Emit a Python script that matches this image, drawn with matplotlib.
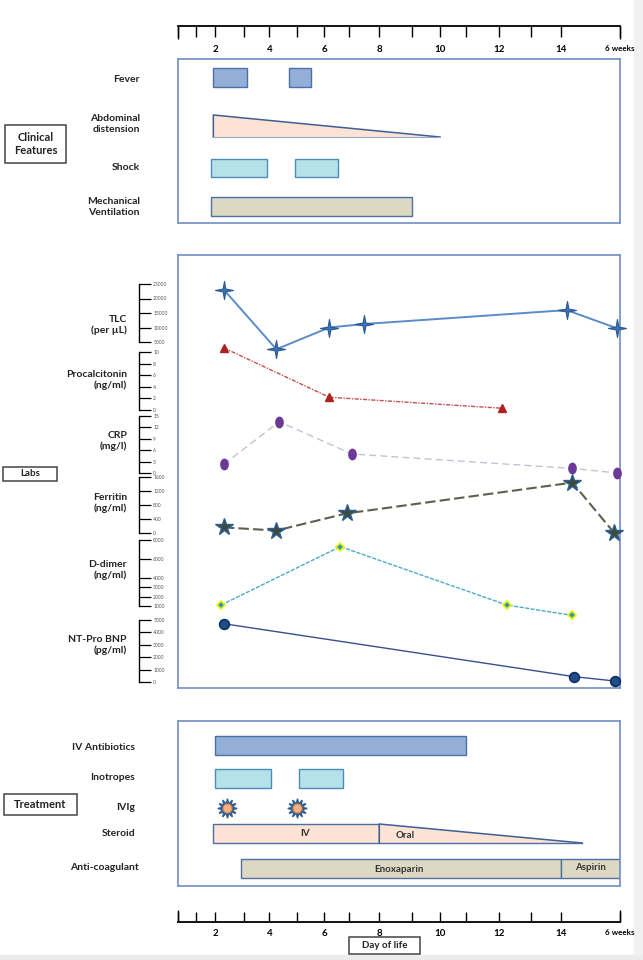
import numpy as np
import matplotlib.pyplot as plt
from matplotlib.path import Path
from matplotlib.patches import Rectangle

plt.rcParams['font.family'] = ['Lato', 'DejaVu Sans']

W, H = 643, 960

# the drawn day ruler is not evenly spaced, so map day -> pixel along it
ruler_days = [0, 1, 2, 3, 4, 5, 6, 7, 8, 9, 10, 11, 12, 13, 14, 42]
ruler_px = [177.5, 195.6, 215.3, 244, 269.4, 297.3, 324.3, 349, 379.3, 412,
            440, 466, 499, 531, 560.5, 620]
ruler_labels = ['', '', '2', '', '4', '', '6', '', '8', '', '10', '', '12', '',
                '14', '6 weeks']

# clinical features, (start day, end day)
fever = [(1.9, 3.1), (4.7, 5.5)]
abd_distension = (1.9, 10)
shock = [(1.8, 3.9), (4.9, 6.55)]
ventilation = [(1.8, 9.0)]

# labs
tlc_day = [2.3, 4.25, 6.2, 7.5, 16.9, 40.7]
tlc = [23000, 2500, 10000, 11200, 16000, 9700]
pct_day = [2.3, 6.2, 12.1]
pct = [10.7, 2.2, 0.3]
crp_day = [2.3, 4.35, 7.1, 19.6, 40.7]
crp = [2.3, 13.5, 5.0, 1.2, 0]
ferritin_day = [2.3, 4.25, 6.9, 19.6, 39.3]
ferritin = [160, 70, 560, 1440, 0]
ddimer_day = [2.2, 6.65, 12.25, 19.6]
ddimer = [1100, 7300, 1100, 0]
bnp_day = [2.3, 20.4, 39.6]
bnp = [4700, 430, 80]

tlc_ticks = [5000, 10000, 15000, 20000, 25000]
pct_ticks = [0, 2, 4, 6, 8, 10]
crp_ticks = [0, 3, 6, 9, 12, 15]
ferritin_ticks = [0, 400, 800, 1200, 1600]
ddimer_ticks = [1000, 2000, 3000, 4000, 6000, 8000]
bnp_ticks = [0, 1000, 2000, 3000, 4000, 5000]

# treatment
antibiotics = [(2.0, 11.0)]
inotropes = [(2.0, 4.05), (5.05, 6.75)]
ivig_day = [2.4, 5.0]
steroid_iv = (1.9, 8.0)
steroid_oral = (8.0, 24.2)
enoxaparin = (2.9, 14)
aspirin = (14, 42)

FRAME = '#6F8FC2'
BLUE_FILL, BLUE_EDGE = '#93AFD8', '#4D6FA3'
CYAN_FILL, CYAN_EDGE = '#B7E1E8', '#4A8DB5'
TAN_FILL = '#DDD8C2'
PEACH_FILL = '#FCE3D3'
LABEL = dict(fontsize=7.5, fontweight='bold', color='#222222')


def to_px(d):
    return np.interp(d, ruler_days, ruler_px)


def to_day(p):
    return np.interp(p, ruler_px, ruler_days)


fig = plt.figure(figsize=(W / 100, H / 100), dpi=100)
fig.patches.append(Rectangle((634 / W, 0), 9 / W, 1, color='#F1F1F1',
                             transform=fig.transFigure, zorder=-5))
fig.patches.append(Rectangle((0, 0), 1, 5 / H, color='#ECECEC',
                             transform=fig.transFigure, zorder=-5))


def px_axes(x0, y0, x1, y1):
    ax = fig.add_axes([x0 / W, 1 - y1 / H, (x1 - x0) / W, (y1 - y0) / H])
    ax.set_xscale('function', functions=(to_px, to_day))
    ax.set_xlim(0, 42)
    ax.set_facecolor('none')
    return ax


def panel(y0, y1):
    ax = px_axes(177.5, y0, 620, y1)
    ax.set_ylim(y1, y0)
    ax.set_xticks([])
    ax.set_yticks([])
    for s in ax.spines.values():
        s.set_color(FRAME)
        s.set_linewidth(1.2)
    return ax


def bars(ax, spans, yc, h, fc, ec=BLUE_EDGE):
    ax.barh([yc] * len(spans), [b - a for a, b in spans],
            left=[a for a, _ in spans], height=h, color=fc,
            edgecolor=ec, linewidth=1, zorder=2)


def ruler(y_line, top):
    if top:
        ax = px_axes(177.5, y_line - 10, 620, y_line)
    else:
        ax = px_axes(177.5, y_line - 20, 620, y_line)
    for side in ['top', 'left', 'right']:
        ax.spines[side].set_visible(False)
    ax.spines['bottom'].set_linewidth(1.3)
    ax.set_yticks([])
    ax.set_xticks(ruler_days)
    ax.set_xticklabels(ruler_labels)
    ax.set_xticks([ruler_days[0], ruler_days[-1]], minor=True)
    ax.xaxis.remove_overlapping_locs = False
    if top:
        ax.tick_params(axis='x', which='major', direction='out', length=8.2,
                       width=1, pad=5.5, labelsize=7)
        ax.tick_params(axis='x', which='minor', direction='out', length=9.5,
                       width=1)
    else:
        ax.tick_params(axis='x', which='major', direction='in', length=7.2,
                       width=1, pad=5, labelsize=7)
        ax.tick_params(axis='x', which='minor', direction='in', length=8.6,
                       width=1)
    for t in ax.get_xticklabels():
        t.set_fontweight('bold')
    ax.get_xticklabels()[-1].set_fontsize(5.8)
    return ax


def boxed(x0, y0, x1, y1, text, size):
    fig.add_artist(Rectangle((x0 / W, 1 - y1 / H), (x1 - x0) / W, (y1 - y0) / H,
                             transform=fig.transFigure, fill=False,
                             edgecolor='#444444', linewidth=1.1))
    fig.text((x0 + x1) / 2 / W, 1 - (y0 + y1) / 2 / H, text, ha='center',
             va='center', fontsize=size, fontweight='bold', color='#222222',
             linespacing=1.15)


def row_label(x, y, text):
    fig.text(x / W, 1 - y / H, text, ha='right', va='center',
             multialignment='right', linespacing=1.2, **LABEL)


ruler(26, top=True)
ruler(922, top=False)

# ---- clinical features
clin = panel(59, 223)
bars(clin, fever, 77.5, 19, BLUE_FILL)
a0, a1 = abd_distension
clin.fill([a0, a0, a1], [115, 137, 137], facecolor=PEACH_FILL, edgecolor='none',
          zorder=2)
clin.plot([a0, a0, a1], [137, 115, 137], color='#3E5E96', lw=1.1, zorder=3)
clin.plot([a0, a1], [137, 137], color='#9AA9C6', lw=0.8, zorder=3)
bars(clin, shock, 168, 18, CYAN_FILL, CYAN_EDGE)
bars(clin, ventilation, 206.5, 19, TAN_FILL)

row_label(140, 79, 'Fever')
row_label(140, 124, 'Abdominal\ndistension')
row_label(140, 168, 'Shock')
row_label(140, 207, 'Mechanical\nVentilation')
boxed(5, 125, 66, 163, 'Clinical\nFeatures', 8)

# ---- labs
panel(255, 688)

ellipse_t = np.linspace(0, 2 * np.pi, 41)
ellipse = Path(np.column_stack([0.7 * np.cos(ellipse_t), np.sin(ellipse_t)]))
thin_star = Path.unit_regular_star(4, innerCircle=0.22)

labs = [
    ('TLC\n(per µL)', tlc_day, tlc, tlc_ticks,
     dict(color='#5B8BC9', lw=1.4, ls='-', marker=thin_star, ms=13,
          mfc='#3D72B0', mec='#2A5A96', mew=0.8)),
    ('Procalcitonin\n(ng/ml)', pct_day, pct, pct_ticks,
     dict(color='#C0504D', lw=1, ls=(0, (3, 1, 1, 1)), marker='^', ms=5.5,
          mfc='#B02020', mec='#B02020')),
    ('CRP\n(mg/l)', crp_day, crp, crp_ticks,
     dict(color='#C9BFD3', lw=1, ls=(0, (5, 3)), marker=ellipse, ms=7.5,
          mfc='#6B3A96', mec='#6B3A96')),
    ('Ferritin\n(ng/ml)', ferritin_day, ferritin, ferritin_ticks,
     dict(color='#5F5F4F', lw=1.5, ls=(0, (5, 2)), marker='*', ms=13,
          mfc='#3F4A3A', mec='#2E5F94', mew=1)),
    ('D-dimer\n(ng/ml)', ddimer_day, ddimer, ddimer_ticks,
     dict(color='#4BACC6', lw=1, ls=(0, (3, 1)), marker='D', ms=4.5,
          mfc='#2A9BB0', mec='#F2F200', mew=1.2)),
    ('NT-Pro BNP\n(pg/ml)', bnp_day, bnp, bnp_ticks,
     dict(color='#3B4E8C', lw=1, ls='-', marker='o', ms=7,
          mfc='#1F4E8A', mec='#0E2E60', mew=1.2)),
]
# vertical extent (px) of each lab's small scale, and its label centre
lab_bands = [(284, 342), (352, 410), (416, 473), (477, 533), (540, 606), (620, 682)]
lab_label_y = [325, 380, 441, 503, 570, 645]

for (name, days, vals, ticks, style), (top, bot), ly in zip(labs, lab_bands, lab_label_y):
    ax = px_axes(177.5, top, 620, bot)
    ax.set_ylim(ticks[0], ticks[-1])
    for side in ['top', 'bottom', 'right']:
        ax.spines[side].set_visible(False)
    ax.spines['left'].set_position(('outward', (177.5 - 139) * 0.72))
    ax.spines['left'].set_linewidth(1)
    ax.set_xticks([])
    ax.set_yticks(ticks)
    ax.set_yticklabels([str(t) for t in ticks])
    ax.tick_params(axis='y', direction='in', length=8.5, width=0.9,
                   pad=-10.2, labelsize=3.6, labelcolor='#555555')
    for t in ax.get_yticklabels():
        t.set_horizontalalignment('left')
    ax.plot(days, vals, clip_on=False, zorder=3, **style)
    row_label(127, ly, name)

boxed(3, 467, 57, 481, 'Labs', 7)

# ---- treatment
trt = panel(721, 886)
bars(trt, antibiotics, 745.5, 19, BLUE_FILL)
bars(trt, inotropes, 778.5, 19, CYAN_FILL, CYAN_EDGE)
trt.plot(ivig_day, [808] * len(ivig_day), ls='none', marker=(12, 1, 0), ms=14,
         color='#2E5F94', zorder=3)
trt.plot(ivig_day, [808] * len(ivig_day), ls='none', marker='o', ms=6.5,
         mfc='#F4B183', mec='#E08040', mew=0.8, zorder=4)
bars(trt, [steroid_iv], 833.5, 19, PEACH_FILL)
s0, s1 = steroid_oral
trt.fill([s0, s0, s1], [824, 843, 843], facecolor=PEACH_FILL, edgecolor='none',
         zorder=2)
trt.plot([s0, s0, s1], [843, 824, 843], color='#3E5E96', lw=1.1, zorder=3)
trt.plot([s0, s1], [843, 843], color='#4D6FA3', lw=1, zorder=3)
bars(trt, [enoxaparin, aspirin], 868.5, 19, TAN_FILL)

inner = dict(ha='center', va='center', fontsize=7, fontweight='bold',
             color='#333333', zorder=5)
trt.text(5.3, 833.5, 'IV', **inner)
trt.text(8.8, 836, 'Oral', **inner)
trt.text(8.6, 869, 'Enoxaparin', **inner)
trt.text(28, 867.5, 'Aspirin', **inner)

row_label(135, 748, 'IV Antibiotics')
row_label(135, 778, 'Inotropes')
row_label(135, 807, 'IVIg')
row_label(135, 834, 'Steroid')
row_label(139, 867, 'Anti-coagulant')
boxed(4, 794, 77, 815, 'Treatment', 8)

boxed(349, 937, 420, 954, 'Day of life', 7)

fig.savefig('out.png', dpi=100)
